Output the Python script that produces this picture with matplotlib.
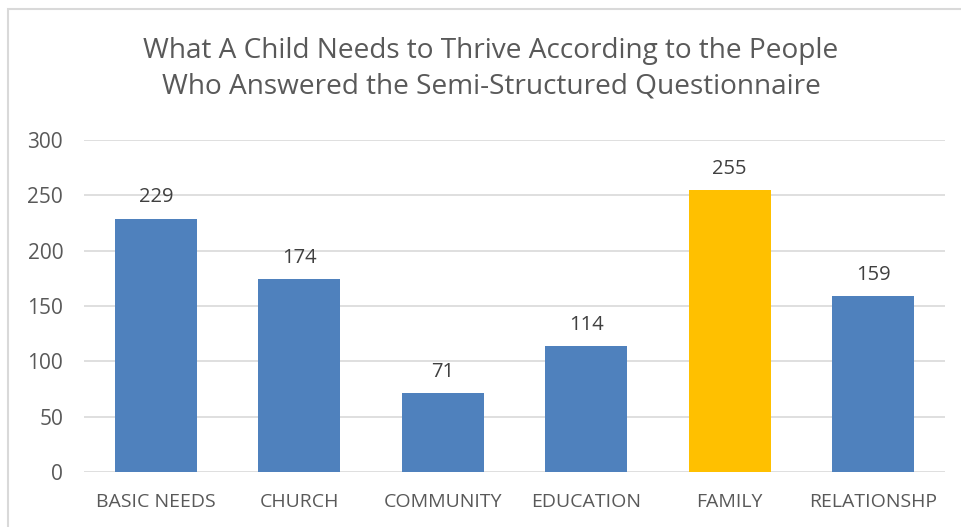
import matplotlib.pyplot as plt
from matplotlib.patches import Rectangle

categories = ["BASIC NEEDS", "CHURCH", "COMMUNITY", "EDUCATION", "FAMILY", "RELATIONSHP"]
counts = [229, 174, 71, 114, 255, 159]
highlight = "FAMILY"

blue = "#4F81BD"
gold = "#FFC000"
text_col = "#595959"
grid_col = "#D9D9D9"

plt.rcParams['font.family'] = ['Open Sans', 'DejaVu Sans']

fig = plt.figure(figsize=(9.61, 5.27), dpi=100)
ax = fig.add_axes([84 / 961, 1 - 472 / 527, (945 - 84) / 961, (472 - 140) / 527])

colors = [gold if c == highlight else blue for c in categories]
x = range(len(categories))
bars = ax.bar(x, counts, width=0.57, color=colors, zorder=2)
for b, v in zip(bars, counts):
    ax.annotate(str(v), (b.get_x() + b.get_width() / 2, v), xytext=(0, 8),
                textcoords="offset points", ha="center", va="bottom",
                fontsize=14.5, color="#404040")

ax.set_xlim(-0.5, len(categories) - 0.5)
ax.set_ylim(0, 300)
ax.set_yticks(range(0, 301, 50))
ax.set_xticks(list(x))
ax.set_xticklabels(categories)
ax.tick_params(length=0, labelsize=14, labelcolor=text_col)
ax.tick_params(axis='y', labelsize=15, pad=15)
ax.tick_params(axis='x', pad=15)
ax.grid(axis='y', color=grid_col, linewidth=1.2, zorder=0)
for s in ax.spines.values():
    s.set_visible(False)

fig.text(491 / 961, 1 - 69 / 527, "What A Child Needs to Thrive According to the People\n"
         "Who Answered the Semi-Structured Questionnaire",
         ha="center", va="center", fontsize=20.2, color=text_col, linespacing=1.35)

# light frame around the chart
fig.patches.append(Rectangle((8 / 961, -0.01), 1.0, 1 - 9 / 527 + 0.01,
                             transform=fig.transFigure, fill=False,
                             edgecolor=grid_col, linewidth=1.5))

fig.savefig("out.png", dpi=100)
